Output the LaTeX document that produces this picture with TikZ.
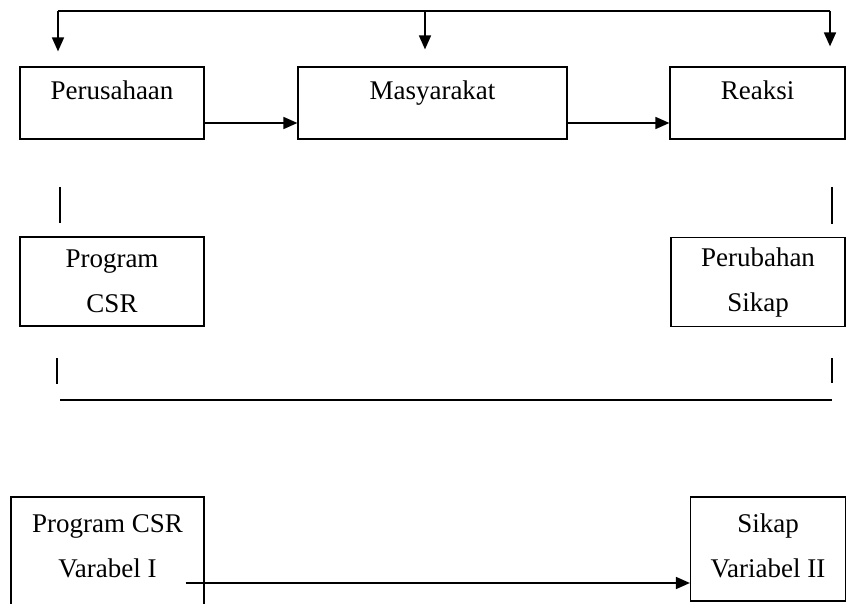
\documentclass[tikz,border=0pt]{standalone}
\usepackage{fontspec}
\setmainfont{Liberation Serif}
\usetikzlibrary{arrows.meta}

\begin{document}
\begin{tikzpicture}[x=1pt,y=-1pt]
        % Define styles
        \tikzset{
            box/.style={draw, line width=1.2pt, inner sep=0pt, align=center, font=\fontsize{27}{45}\selectfont},
            flow/.style={-{Triangle[length=14pt,width=12pt]}, line width=1.7pt},
            rule/.style={line width=1.2pt}
        }
        \useasboundingbox (0,0) rectangle (849,604);
        % Top row of boxes
        \node[box, minimum width=184pt, minimum height=72pt, text height=18pt, text depth=24pt] (perusahaan) at (112,103) {Perusahaan};
        \node[box, minimum width=269pt, minimum height=72pt, text height=18pt, text depth=24pt] (masyarakat) at (432.5,103) {Masyarakat};
        \node[box, minimum width=175pt, minimum height=72pt, text height=18pt, text depth=24pt] (reaksi) at (757.5,103) {Reaksi};
        % Feedback line over the top row
        \coordinate (fbl) at (58,11);
        \coordinate (fbm) at (425,11);
        \coordinate (fbr) at (830,11);
        \draw[rule] (fbl) -- (fbr);
        \draw[flow, shorten >=15pt] (fbl) -- (fbl |- perusahaan.north);
        \draw[flow, shorten >=17pt] (fbm) -- (fbm |- masyarakat.north);
        \draw[flow, shorten >=20pt] (fbr) -- (fbr |- reaksi.north);
        % Arrows between the top boxes
        \draw[flow] ([yshift=-20pt]perusahaan.east) -- ([yshift=-20pt]masyarakat.west);
        \draw[flow] ([yshift=-20pt]masyarakat.east) -- ([yshift=-20pt]reaksi.west);
        % Middle row
        \node[box, minimum width=184pt, minimum height=89pt, text height=62pt, text depth=-9pt] (program) at (112,281.5) {Program\\CSR};
        \node[box, minimum width=174pt, minimum height=89pt, text height=60pt, text depth=-6pt] (perubahan) at (758,282) {Perubahan\\Sikap};
        \draw[rule] (60,187) -- (60,223);
        \draw[rule] (832,187) -- (832,224);
        \draw[rule] (57,358) -- (57,384);
        \draw[rule] (832,358) -- (832,383);
        \draw[rule] (60,400) -- (832,400);
        % Bottom row: variables
        \node[box, minimum width=193pt, minimum height=120pt, text height=64pt, text depth=24pt] (csrvar) at (107.5,557) {Program CSR\\Varabel I};
        \node[box, minimum width=155pt, minimum height=104pt, text height=65pt, text depth=9pt] (sikapvar) at (768,549) {Sikap\\Variabel II};
        \draw[flow] ([xshift=-19pt,yshift=-26pt]csrvar.east) -- ([yshift=-26pt]csrvar.east -| sikapvar.west);
    \end{tikzpicture}
\end{document}
